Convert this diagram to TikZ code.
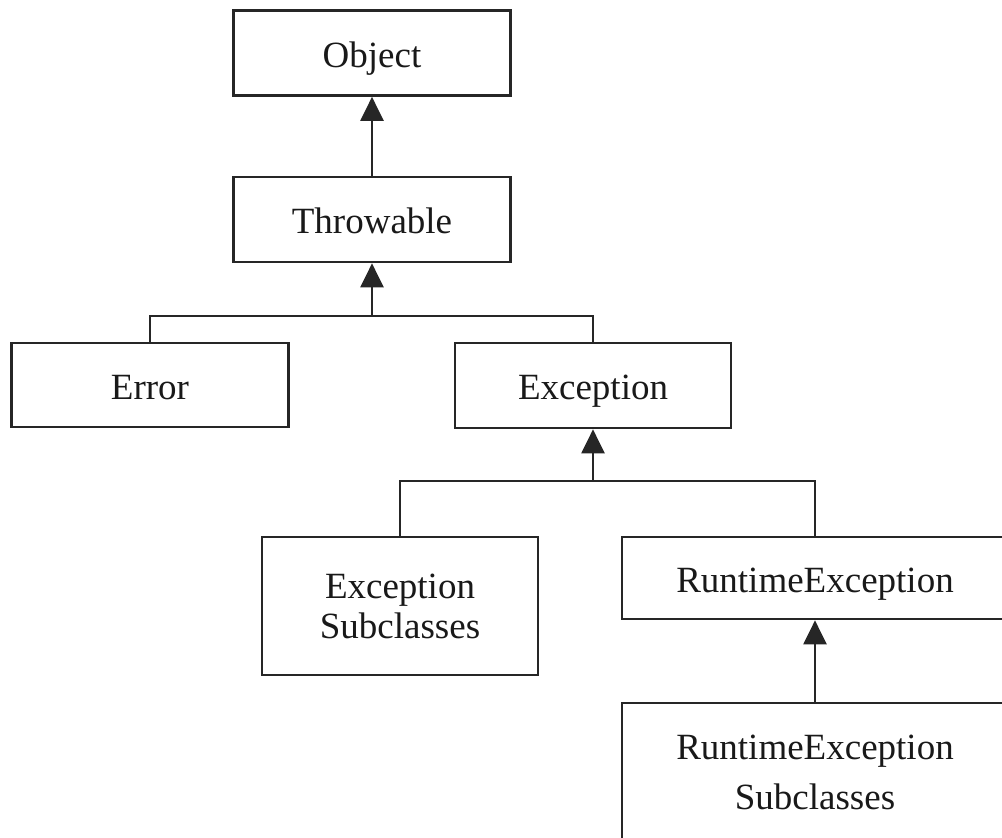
\documentclass[tikz,border=0pt]{standalone}
\usepackage{fontspec}
\setmainfont{Liberation Serif}
\usetikzlibrary{arrows.meta}
\begin{document}
\begin{tikzpicture}[x=1pt,y=-1pt,
  cls/.style={draw=black!85, line width=2.7pt, fill=white, inner sep=0pt,
    text=black!90, font=\fontsize{37}{40}\selectfont, align=center},
  oneline/.style={text height=28pt, text depth=0pt},
  link/.style={draw=black!85, line width=2.3pt},
  inherit/.style={link, -{Triangle[width=23pt,length=24pt]}}]
\useasboundingbox (0,0) rectangle (1002,838);
\clip (0,0) rectangle (1002,838);
\fill[white] (0,0) rectangle (1002,838);

% class boxes
\node[cls, oneline, minimum width=277, minimum height=85] (object) at (372,53) {Object};
\node[cls, oneline, minimum width=277, minimum height=85] (throwable) at (372,219.5) {Throwable};
\node[cls, oneline, minimum width=277, minimum height=84] (error) at (150,385) {Error};
\node[cls, oneline, minimum width=276, minimum height=85] (exception) at (593,385.5) {Exception};
\node[cls, minimum width=276, minimum height=138] (excsub) at (400,606) {Exception\\Subclasses};
\node[cls, oneline, minimum width=386, minimum height=82] (runtime) at (815,578) {RuntimeException};
\node[cls, minimum width=386, minimum height=138,
  font=\fontsize{37}{50}\selectfont] (runsub) at (815,772) {RuntimeException\\Subclasses};

% branch points
\coordinate (j1) at (372,316);
\coordinate (j2) at (593,481);

% inheritance connectors
\draw[inherit] (throwable.north) -- (object.south);
\draw[link] (error.north) |- (j1) -| (exception.north);
\draw[inherit] (j1) -- (throwable.south);
\draw[link] (excsub.north) |- (j2) -| (runtime.north);
\draw[inherit] (j2) -- (exception.south);
\draw[inherit] (runsub.north) -- (runtime.south);
\end{tikzpicture}
\end{document}
